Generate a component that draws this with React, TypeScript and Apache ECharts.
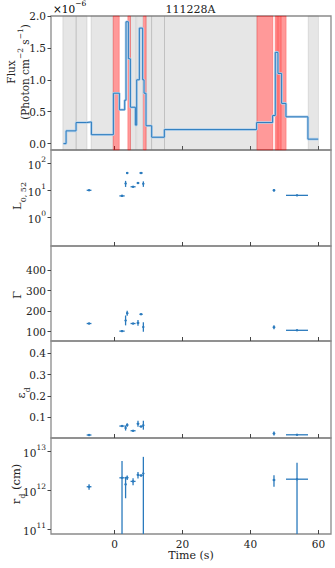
import React, { useEffect, useRef } from 'react';
import * as echarts from 'echarts';

// ---------- data ----------
const X_MIN = -18.7;
const X_MAX = 63.7;
const timeTicks = [0, 20, 40, 60];
const fluxTicks = [0, 0.5, 1.0, 1.5, 2.0];
const lumTickExponents = [0, 1, 2];
const gammaTicks = [100, 200, 300, 400];
const epsTicks = [0.1, 0.2, 0.3, 0.4];
const radiusTickExponents = [11, 12, 13];

// flux light curve (units of 1e-6 photon cm^-2 s^-1), bin edges in s
const binEdges = [-15.05, -14.26, -11.32, -8.19, -6.81, -0.34, 1.42, 2.99, 3.38, 4.07, 4.66, 6.13, 6.52, 7.3, 8.28, 8.68, 9.26, 10.93, 14.66, 41.81, 46.52, 47.3, 48.09, 49.17, 50.44, 56.91, 59.95];
const fluxValues = [0, 0.2, 0.33, 0.34, 0.14, 0.79, 0.53, 0.68, 1.91, 1.33, 0.57, 0.29, 1.0, 1.81, 1.0, 0.79, 0.28, 0.1, 0.22, 0.33, 0.44, 1.43, 1.1, 0.63, 0.42, 0.07];

// shaded intervals
const graySpans = [[-15.2, -11.3], [-11.3, -8.1], [-6.9, -0.4], [4.7, 6.2], [6.5, 8.3], [9.3, 10.9], [10.9, 14.7], [14.7, 41.9], [57.0, 60.0]];
const redSpans = [[-0.4, 1.4], [3.9, 4.7], [8.5, 9.3], [41.9, 46.6], [47.25, 47.85], [47.85, 48.35], [48.35, 48.95], [48.95, 50.5]];

// fitted parameters per time bin
const paramTime = [-7.5, 2.2, 3.25, 3.72, 5.45, 6.9, 7.8, 8.48, 46.92, 53.7];
const paramHalfWidth = [0.7, 0.78, 0.2, 0.35, 0.74, 0.39, 0.49, 0.2, 0.39, 3.24];
const lumValues = [10, 6.2, 17.8, 43.7, 13.5, 18.6, 43.7, 17.4, 10, 6.5];
const lumErrors = [0.6, 0.6, 4.5, 2.5, 0.8, 1.5, 2.5, 4.0, 1.2, 0.4];
const gammaValues = [140, 103, 155, 190, 140, 143, 185, 123, 122, 107];
const gammaErrors = [4, 4, 24, 12, 3, 14, 4, 23, 10, 3];
const epsValues = [0.017, 0.059, 0.05, 0.064, 0.037, 0.07, 0.057, 0.063, 0.024, 0.018];
const epsErrors = [0.002, 0.004, 0.012, 0.008, 0.003, 0.014, 0.004, 0.021, 0.009, 0.002];
const radiusValues = [1.22e12, 2.06e12, 1.4e12, 2.08e12, 1.67e12, 2.45e12, 2.37e12, 2.66e12, 1.81e12, 1.9e12];
const radiusErrors = [0.2e12, 3.5e12, 0.78e12, 0.28e12, 0.33e12, 0.47e12, 0.15e12, 4.4e12, 0.6e12, 3.1e12];

// ---------- style ----------
const FONT = 'DejaVu Serif';
const BLUE = '#2a7abd';
const SPINE = '#8a8a8a';
const TEXT = '#222';
const LEFT = 51;
const RIGHT = 4;
const panelTops = [16, 150, 246, 341, 438];
const panelHeights = [134, 96, 95, 97, 96];
const yRanges = [[-0.1, 2.0], [-1.06, 2.49], [55, 517], [0.003, 0.458], [10.88, 13.33]];

const supRich = {
  n: { fontFamily: FONT, fontSize: 10.5, color: TEXT, lineHeight: 15, verticalAlign: 'bottom' },
  s: { fontFamily: FONT, fontSize: 7.5, color: TEXT, lineHeight: 8, verticalAlign: 'top' },
};

function App() {
  const ref = useRef<HTMLDivElement>(null);
  useEffect(() => {
    if (!ref.current) return;
    const chart = echarts.init(ref.current, null, { renderer: 'svg' });

    const grids = panelTops.map((top, i) => ({
      left: LEFT, right: RIGHT, top, height: panelHeights[i],
      show: true, borderColor: SPINE, borderWidth: 1.3, backgroundColor: 'transparent',
    }));

    const xAxes = panelTops.map((_, i) => ({
      type: 'value', gridIndex: i, min: X_MIN, max: X_MAX, position: 'bottom',
      axisLine: { show: false, onZero: false }, splitLine: { show: false },
      axisTick: { show: true, inside: true, length: 4, customValues: timeTicks, lineStyle: { color: '#444', width: 1 } },
      axisLabel: { show: i === 4, customValues: timeTicks, fontFamily: FONT, fontSize: 10.5, color: TEXT, margin: 4 },
      name: i === 4 ? 'Time (s)' : '', nameLocation: 'middle', nameGap: 16,
      nameTextStyle: { fontFamily: FONT, fontSize: 11, color: TEXT },
    }));

    const tickSets = [fluxTicks, lumTickExponents, gammaTicks, epsTicks, radiusTickExponents];
    const formatters = [
      (v: number) => v.toFixed(1),
      (v: number) => `{n|10}{s|${Math.round(v)}}`,
      (v: number) => String(Math.round(v)),
      (v: number) => v.toFixed(1),
      (v: number) => `{n|10}{s|${Math.round(v)}}`,
    ];
    const yAxes = panelTops.map((_, i) => ({
      type: 'value', gridIndex: i, min: yRanges[i][0], max: yRanges[i][1], position: 'left',
      axisLine: { show: false, onZero: false }, splitLine: { show: false },
      axisTick: { show: true, inside: false, length: 3.5, customValues: tickSets[i], lineStyle: { color: '#444', width: 1 } },
      axisLabel: {
        customValues: tickSets[i], formatter: formatters[i], fontFamily: FONT, fontSize: 10.5, color: TEXT, margin: 5,
        rich: supRich,
      },
    }));

    const stepData = binEdges.map((e, i) => [e, fluxValues[Math.min(i, fluxValues.length - 1)]]);

    const spanData = [
      ...graySpans.map(([a, b]) => [
        { xAxis: a, itemStyle: { color: 'rgba(128,128,128,0.2)', borderColor: 'rgba(128,128,128,0.25)', borderWidth: 0.8 } },
        { xAxis: b },
      ]),
      ...redSpans.map(([a, b]) => [
        { xAxis: a, itemStyle: { color: 'rgba(255,0,0,0.4)', borderColor: 'rgba(255,0,0,0.3)', borderWidth: 0.8 } },
        { xAxis: b },
      ]),
    ];

    const errorSeries = (gi: number, data: number[][]) => ({
      type: 'custom', xAxisIndex: gi, yAxisIndex: gi, clip: true, z: 3,
      data, encode: { x: 0, y: 2 },
      renderItem: (params: any, api: any) => {
        const t = api.value(0), hw = api.value(1), y = api.value(2), lo = api.value(3), hi = api.value(4);
        const pL = api.coord([t - hw, y]);
        const pR = api.coord([t + hw, y]);
        const pLo = api.coord([t, lo]);
        const pHi = api.coord([t, hi]);
        const c = api.coord([t, y]);
        const style = { stroke: BLUE, lineWidth: 1.3 };
        return {
          type: 'group',
          children: [
            { type: 'line', shape: { x1: pL[0], y1: pL[1], x2: pR[0], y2: pR[1] }, style },
            { type: 'line', shape: { x1: pLo[0], y1: pLo[1], x2: pHi[0], y2: pHi[1] }, style },
            { type: 'circle', shape: { cx: c[0], cy: c[1], r: 1.2 }, style: { fill: BLUE } },
          ],
        };
      },
    });

    const linData = (vals: number[], errs: number[], gi: number) =>
      vals.map((v, i) => [paramTime[i], paramHalfWidth[i], v, Math.max(v - errs[i], yRanges[gi][0]), Math.min(v + errs[i], yRanges[gi][1])]);
    const logData = (vals: number[], errs: number[], gi: number) =>
      vals.map((v, i) => {
        const lo = v - errs[i];
        return [
          paramTime[i], paramHalfWidth[i], Math.log10(v),
          lo > 0 ? Math.max(Math.log10(lo), yRanges[gi][0]) : yRanges[gi][0],
          Math.min(Math.log10(v + errs[i]), yRanges[gi][1]),
        ];
      });

    const labelStyle = (text: string, x: number, y: number, rich: any) => ({
      type: 'text', x, y, rotation: Math.PI / 2, z: 10,
      style: { text, rich, align: 'center', verticalAlign: 'middle', fontFamily: FONT, fontSize: 11, fill: TEXT },
    });
    const subRich = {
      n: { fontFamily: FONT, fontSize: 11.5, color: TEXT, lineHeight: 16, verticalAlign: 'top' },
      b: { fontFamily: FONT, fontSize: 8, color: TEXT, lineHeight: 8, verticalAlign: 'bottom' },
    };
    const fluxRich = {
      n: { fontFamily: FONT, fontSize: 10.5, color: TEXT, lineHeight: 14, verticalAlign: 'bottom', align: 'center' },
      s: { fontFamily: FONT, fontSize: 7.5, color: TEXT, lineHeight: 7, verticalAlign: 'top', align: 'center' },
    };

    chart.setOption({
      animation: false,
      grid: grids,
      xAxis: xAxes,
      yAxis: yAxes,
      graphic: [
        { type: 'text', x: 190.5, y: 9, z: 10, style: { text: '111228A', fontFamily: FONT, fontSize: 11, fill: TEXT, align: 'center', verticalAlign: 'middle' } },
        {
          type: 'text', x: 53, y: 7, z: 10,
          style: {
            text: '{n|×10}{s|−6}', align: 'left', verticalAlign: 'middle',
            rich: {
              n: { fontFamily: FONT, fontSize: 10.5, color: TEXT, lineHeight: 15, verticalAlign: 'bottom' },
              s: { fontFamily: FONT, fontSize: 7.5, color: TEXT, lineHeight: 8, verticalAlign: 'top' },
            },
          },
        },
        labelStyle('{n|Flux}\n{n|(Photon cm}{s|−2}{n| s}{s|−1}{n|)}', 16.5, 72, fluxRich),
        labelStyle('{n|L}{b|0, 52}', 19, 196, subRich),
        labelStyle('{n|Γ}', 19, 295, subRich),
        labelStyle('{n|ε}{b|d}', 23, 393, subRich),
        labelStyle('{n|r}{b|d}{n| (cm)}', 18, 484, subRich),
      ],
      series: [
        {
          type: 'line', xAxisIndex: 0, yAxisIndex: 0, step: 'end', data: stepData, symbol: 'none', z: 2,
          lineStyle: { color: '#b5d2ec', width: 2.6 },
          markArea: { silent: true, data: spanData },
        },
        {
          type: 'line', xAxisIndex: 0, yAxisIndex: 0, step: 'end', data: stepData, symbol: 'none', z: 3,
          lineStyle: { color: BLUE, width: 1 },
        },
        errorSeries(1, logData(lumValues, lumErrors, 1)),
        errorSeries(2, linData(gammaValues, gammaErrors, 2)),
        errorSeries(3, linData(epsValues, epsErrors, 3)),
        errorSeries(4, logData(radiusValues, radiusErrors, 4)),
      ],
    });
    return () => chart.dispose();
  }, []);
  return <div ref={ref} style={{ position: 'fixed', left: 0, top: 0, width: 335, height: 568, background: '#fff' }} />;
}

export default App;
